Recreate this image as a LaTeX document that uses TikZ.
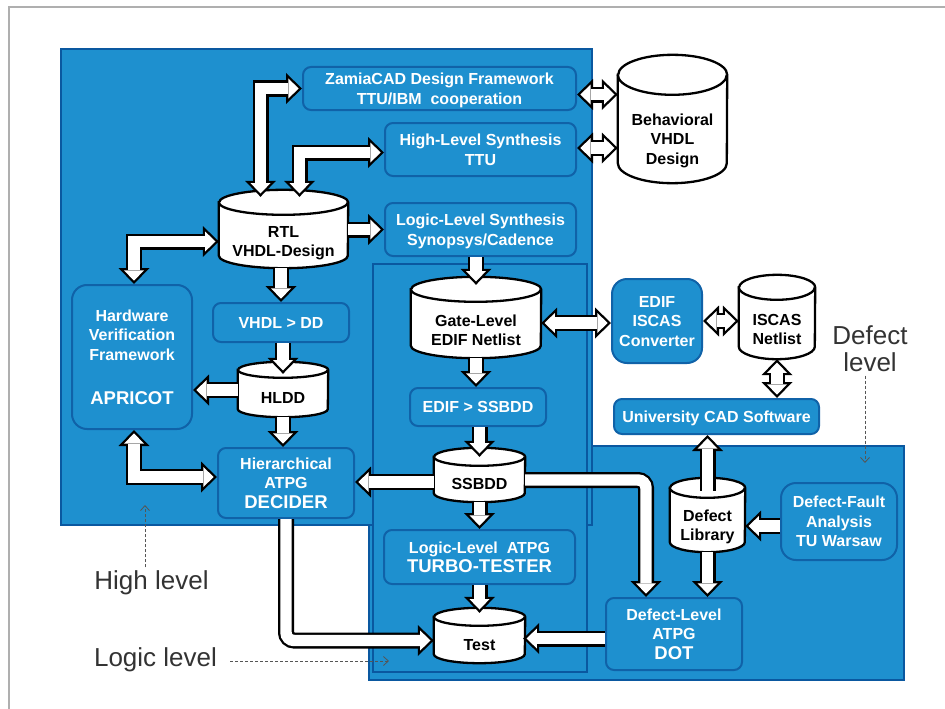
\documentclass[tikz,border=0pt]{standalone}
\usepackage{fontspec}
\setmainfont{Liberation Sans}
\usetikzlibrary{arrows.meta, calc}

\definecolor{zoneblue}{RGB}{30,144,207}
\definecolor{zoneline}{RGB}{10,88,160}
\definecolor{boxline}{RGB}{16,98,168}
\definecolor{noteline}{RGB}{85,85,85}
\definecolor{framegray}{RGB}{175,175,175}

\pgfdeclarelayer{zones}
\pgfdeclarelayer{drums}
\pgfsetlayers{zones,drums,main}

\newcommand{\boxfont}{\fontsize{16}{19.5}\selectfont\bfseries}
\newcommand{\namefont}{\fontsize{18.5}{20}\selectfont}

\newcommand{\onearrow}[2][]{%
  \draw[arrowrim, ->, #1] #2;
  \draw[arrowcore, ->, #1] #2;}
\newcommand{\twoarrow}[2][]{%
  \draw[arrowrim, <->, #1] #2;
  \draw[arrowcore, <->, shorten <=3.3pt, #1] #2;}

% cylinder round the front face of a store node: name, x radius, y radius
\newcommand{\drum}[3]{%
  \begin{pgfonlayer}{drums}
    \filldraw[drumline] ($(#1.north west)+(0,-#3)$) -- ($(#1.south west)+(0,-#3)$)
        arc[start angle = 180, end angle = 0, x radius = #2, y radius = #3]
        -- ($(#1.north east)+(0,-#3)$)
        arc[start angle = 0, end angle = -180, x radius = #2, y radius = #3] -- cycle;
    \draw[drumline] ($(#1.north west)+(0,-#3)$)
        arc[start angle = 180, end angle = 0, x radius = #2, y radius = #3];
  \end{pgfonlayer}}

\tikzset{
  zone/.style = {draw = zoneline, line width = 2.5pt, fill = zoneblue},
  tool/.style = {draw = boxline, line width = 2pt, fill = zoneblue, rounded corners = 8pt,
                 text = white, font = \boxfont, align = center, inner sep = 0pt, text depth = 0pt},
  store/.style = {font = \boxfont, align = center, text = black, inner sep = 0pt, text depth = 0pt},
  drumline/.style = {draw = black, line width = 2.3pt, fill = white},
  arrowrim/.style = {draw = black, line width = 16pt,
                     >= {Triangle[length = 16pt, width = 31pt, line width = 0pt]}},
  arrowcore/.style = {draw = white, line width = 11.4pt, shorten >= 3.3pt,
                      >= {Triangle[length = 10.4pt, width = 20pt, line width = 0pt]}},
  note/.style = {font = \fontsize{26}{27}\selectfont, text = black!80, align = center},
  notearrow/.style = {draw = noteline, line width = 0.8pt, dash pattern = on 3pt off 2pt,
                      -{Straight Barb[length = 5pt, width = 9pt]}}
}

\begin{document}
\begin{tikzpicture}[x = 1pt, y = -1pt, line join = miter]

    \useasboundingbox (0,0) rectangle (945,709);
    \draw[framegray, line width = 1.5pt] (9,709) -- (9,7) -- (945,7);

    % levels
    \begin{pgfonlayer}{zones}
        \draw[zone] (369,446) rectangle (904,680);
        \draw[zone] (61,49) rectangle (592,525);
        \draw[zone] (373,264) rectangle (587,672);
    \end{pgfonlayer}

    % high level
    \node[tool, minimum width = 273, minimum height = 43] (zamia) at (439.5,88.5)
        {ZamiaCAD Design Framework\\TTU/IBM\ \ cooperation};
    \node[tool, minimum width = 191, minimum height = 53] (hls) at (480.5,149.5)
        {High-Level Synthesis\\TTU};
    \node[tool, minimum width = 191, minimum height = 53] (lls) at (480.5,229.5)
        {Logic-Level Synthesis\\Synopsys/Cadence};
    \node[store, minimum width = 109, minimum height = 88] (behav) at (672.5,139)
        {Behavioral\\VHDL\\Design};
    \node[store, minimum width = 129, minimum height = 53] (rtl) at (283.5,241.5)
        {RTL\\VHDL-Design};
    \node[tool, minimum width = 136, minimum height = 39] (vhdldd) at (281,322.5) {VHDL > DD};
    \node[store, minimum width = 90, minimum height = 39] (hldd) at (283,397.5) {HLDD};
    \node[tool, rounded corners = 15pt, minimum width = 120, minimum height = 144] (apricot) at (132,357)
        {Hardware\\Verification\\Framework\\[25pt]{\namefont APRICOT}};
    \node[tool, minimum width = 136, minimum height = 70] (decider) at (286,483)
        {Hierarchical\\ATPG\\{\namefont DECIDER}};

    % logic level
    \node[store, minimum width = 130, minimum height = 56] (gate) at (476,330)
        {Gate-Level\\EDIF Netlist};
    \node[tool, minimum width = 136, minimum height = 38] (edifss) at (478,407) {EDIF > SSBDD};
    \node[store, minimum width = 91, minimum height = 36] (ssbdd) at (479.5,484) {SSBDD};
    \node[tool, minimum width = 191, minimum height = 54] (turbo) at (479.5,557)
        {Logic-Level\ \ ATPG\\{\namefont TURBO-TESTER}};
    \node[store, minimum width = 91, minimum height = 37] (test) at (479.5,644.5) {Test};

    % defect level
    \node[tool, rounded corners = 15pt, minimum width = 90, minimum height = 84] (conv) at (657,321)
        {EDIF\\ISCAS\\Converter};
    \node[store, minimum width = 76, minimum height = 59] (iscas) at (777,329.5)
        {ISCAS\\Netlist};
    \node[tool, minimum width = 205, minimum height = 35] (ucad) at (716.5,416.5) {University CAD Software};
    \node[store, minimum width = 75, minimum height = 54] (deflib) at (707.5,525)
        {Defect\\Library};
    \node[tool, rounded corners = 15pt, minimum width = 116, minimum height = 77] (dfa) at (839,521.5)
        {Defect-Fault\\Analysis\\TU Warsaw};
    \node[tool, minimum width = 136, minimum height = 72] (dot) at (674,634)
        {Defect-Level\\ATPG\\{\namefont DOT}};

    \drum{behav}{54.5}{20}
    \drum{rtl}{64.5}{12.5}
    \drum{hldd}{45}{8}
    \drum{gate}{65}{12.5}
    \drum{ssbdd}{45.5}{9}
    \drum{test}{45.5}{9}
    \drum{iscas}{38}{12.5}
    \drum{deflib}{37.5}{10}

    % block arrows
    \twoarrow{($(rtl.north)+(-23,-18)$) |- (zamia.west)}
    \twoarrow{($(rtl.north)+(16,-18)$) |- ($(hls.west)+(0,3)$)}
    \onearrow{(lls.west -| rtl.east) -- (lls.west)}
    \twoarrow{($(apricot.north)+(2,0)$) |- (rtl.west)}
    \onearrow{(vhdldd.north |- rtl.south) -- (vhdldd.north)}
    \onearrow{(hldd.north |- vhdldd.south) -- ($(hldd.north)+(0,-4)$)}
    \onearrow{($(hldd.west)+(0,-7.5)$) -- ($(apricot.east)+(0,33)$)}
    \onearrow{(hldd.south) -- (hldd.south |- decider.north)}
    \twoarrow{($(apricot.south)+(2,0)$) |- ($(decider.west)+(0,-6)$)}

    \onearrow{(lls.south -| gate.north) -- ($(gate.north)+(0,-17)$)}
    \onearrow{(gate.south) -- (gate.south |- edifss.north)}
    \onearrow{(edifss.south -| ssbdd.north) -- ($(ssbdd.north)+(0,-9)$)}
    \onearrow{($(ssbdd.west)+(0,-2)$) -- ($(decider.east)+(0,-1)$)}
    \onearrow{(ssbdd.south) -- (ssbdd.south |- turbo.north)}
    \onearrow{(turbo.south) -- ($(test.north)+(0,-13)$)}
    \onearrow[rounded corners = 8pt]{(decider.south) |- ($(test.west)+(0,-4)$)}
    \onearrow[rounded corners = 8pt]{($(ssbdd.east)+(0,-4)$) -| ($(dot.north)+(-28,0)$)}
    \onearrow{($(dot.west)+(0,4.5)$) -- ($(test.east)+(-2,-6)$)}

    \twoarrow{($(zamia.east)+(0,6)$) -- ($(behav.west)+(0,-44.5)$)}
    \twoarrow{($(hls.east)+(0,-1.5)$) -- ($(behav.west)+(0,9)$)}
    \twoarrow{($(gate.east)+(0,-7)$) -- ($(conv.west)+(0,2)$)}
    \twoarrow{(conv.east) -- (conv.east -| iscas.west)}
    \twoarrow{(iscas.south) -- (iscas.south |- ucad.north)}
    \onearrow{($(deflib.north)+(0,-7)$) -- (deflib.north |- ucad.south)}
    \onearrow{($(dfa.west)+(0,4.5)$) -- ($(deflib.east)+(0,1)$)}
    \onearrow{(deflib.south) -- (deflib.south |- dot.north)}

    % level notes
    \node[note] (defectnote) at (870,349) {Defect\\level};
    \node[note] (highnote) at (151.5,583) {High level};
    \node[note] (logicnote) at (155.5,660) {Logic level};
    \coordinate (defecttip) at (865,463);
    \coordinate (hightip) at (145,505);
    \coordinate (logictip) at (389,661);
    \draw[notearrow] (defecttip |- defectnote.south) -- (defecttip);
    \draw[notearrow] (hightip |- highnote.north) -- (hightip);
    \draw[notearrow] ($(logicnote.east)+(10,1)$) -- (logictip);

\end{tikzpicture}
\end{document}
